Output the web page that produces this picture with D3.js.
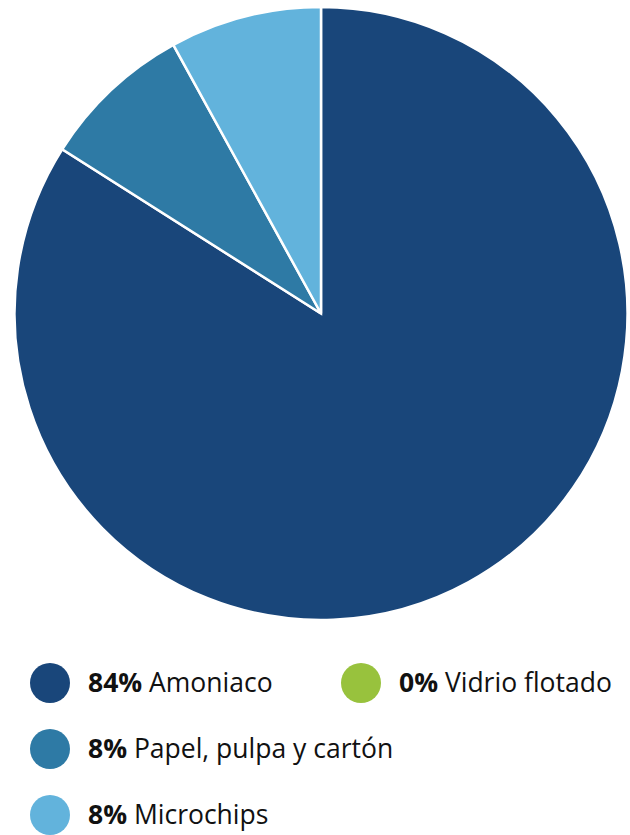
<!DOCTYPE html>
<html>
<head>
<meta charset="utf-8">
<script src="https://cdn.jsdelivr.net/npm/d3@7"></script>
<style>
  body { margin: 0; background: #fff; }
  svg { display: block; font-family: "Open Sans", sans-serif; }
</style>
</head>
<body>
<div id="chart-container"></div>
<script>
const categories = ["Amoniaco", "Vidrio flotado", "Papel, pulpa y cartón", "Microchips"];
const values = [84, 0, 8, 8];
const colors = ["#19467a", "#98c23d", "#2e7aa5", "#62b3dc"];

const width = 630, height = 835;
const cx = 321, cy = 313.5, radius = 306.5;

const svg = d3.select("#chart-container")
  .append("svg")
  .attr("width", width)
  .attr("height", height);

const pie = d3.pie().sort(null).value(d => d)(values);
const arc = d3.arc().innerRadius(0).outerRadius(radius);

// pie slices
svg.append("g")
  .attr("transform", `translate(${cx},${cy})`)
  .selectAll("path")
  .data(pie)
  .enter()
  .append("path")
  .attr("d", arc)
  .attr("fill", (d, i) => colors[i])
  .attr("stroke", "#fff")
  .attr("stroke-width", d => d.value > 0 ? 2.5 : 0);

// legend, two columns
const legendPos = [[0, 0], [1, 0], [0, 1], [0, 2]];
const colX = d3.scaleOrdinal().domain([0, 1]).range([50, 361]);
const rowY = d3.scaleLinear().domain([0, 2]).range([683, 815]);

const item = svg.append("g")
  .selectAll("g")
  .data(categories)
  .enter()
  .append("g")
  .attr("transform", (d, i) => `translate(${colX(legendPos[i][0])},${rowY(legendPos[i][1])})`);

item.append("circle")
  .attr("r", 20)
  .attr("fill", (d, i) => colors[i]);

const label = item.append("text")
  .attr("x", 38)
  .attr("y", 9)
  .style("font-size", "26.5px")
  .attr("fill", "#111");

label.append("tspan")
  .style("font-weight", "bold")
  .text((d, i) => values[i] + "%");

label.append("tspan")
  .text(d => " " + d);
</script>
</body>
</html>
